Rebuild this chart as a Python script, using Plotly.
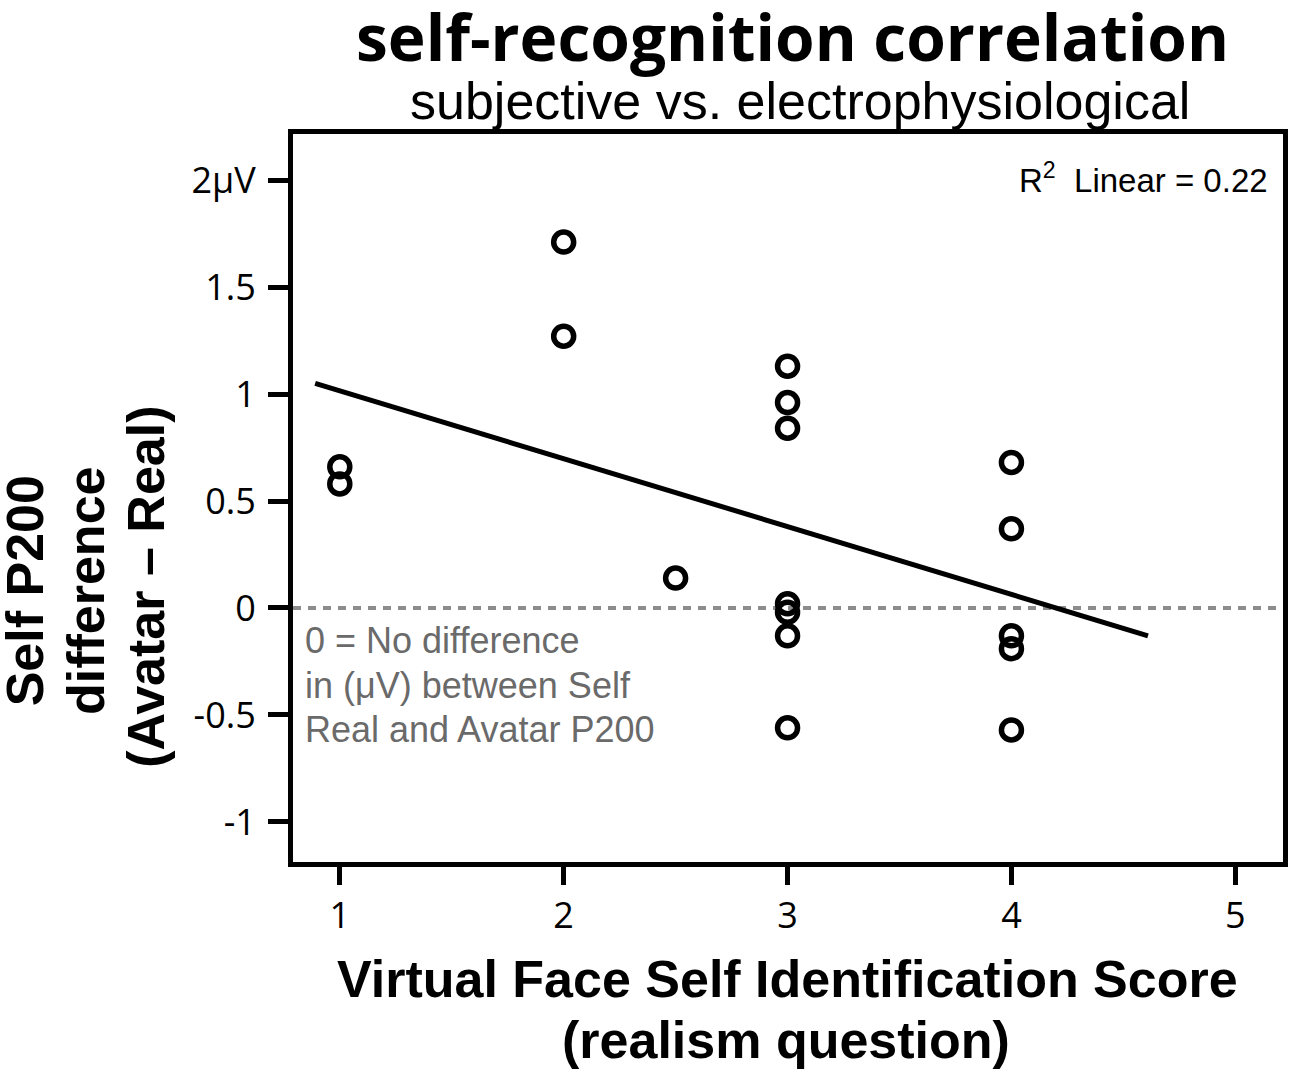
import plotly.graph_objects as go

# Data
score = [1, 1, 2, 2, 2.5, 3, 3, 3, 3, 3, 3, 3, 4, 4, 4, 4, 4]
p200_diff = [0.66, 0.58, 1.71, 1.27, 0.14, 1.13, 0.96, 0.84, 0.02, -0.02, -0.13, -0.56,
             0.68, 0.37, -0.13, -0.19, -0.57]
fit_x = [0.89, 4.61]
fit_y = [1.05, -0.13]
x_ticks = [1, 2, 3, 4, 5]
x_tick_labels = ["1", "2", "3", "4", "5"]
y_ticks = [-1, -0.5, 0, 0.5, 1, 1.5, 2]
y_tick_labels = ["-1", "-0.5", "0", "0.5", "1", "1.5", "2μV"]

W, H = 1300, 1073
L, R, T, B = 293, 12, 134, 211

fig = go.Figure()
fig.add_trace(go.Scatter(
    x=fit_x, y=fit_y, mode="lines",
    line=dict(color="black", width=5), showlegend=False, hoverinfo="skip"))
fig.add_trace(go.Scatter(
    x=score, y=p200_diff, mode="markers",
    marker=dict(symbol="circle-open", size=20, color="black",
                line=dict(color="black", width=5.5)),
    showlegend=False))

fig.add_shape(type="line", xref="paper", yref="y", x0=0, x1=1, y0=0, y1=0,
              line=dict(color="#8c8c8c", width=4, dash="8px,7px"), layer="below")

tickfont = dict(family="Open Sans", size=36, color="black")
fig.update_xaxes(range=[0.791, 5.213], tickvals=x_ticks, ticktext=x_tick_labels,
                 showline=True, linewidth=5, linecolor="black", mirror=True,
                 ticks="outside", ticklen=18, tickwidth=5, tickcolor="black",
                 showgrid=False, zeroline=False, tickfont=tickfont)
fig.update_yaxes(range=[-1.187, 2.215], tickvals=y_ticks, ticktext=y_tick_labels,
                 showline=True, linewidth=5, linecolor="black", mirror=True,
                 ticks="outside", ticklen=20, tickwidth=5, tickcolor="black",
                 ticklabelstandoff=5,
                 showgrid=False, zeroline=False, tickfont=tickfont)

fig.update_layout(
    width=W, height=H,
    margin=dict(l=L, r=R, t=T, b=B),
    paper_bgcolor="white", plot_bgcolor="white",
)


def pa(text, x, y, size, family="Liberation Sans", color="black", xanchor="center",
       yanchor="middle", angle=0, align="center"):
    px = (x - L) / (W - L - R)
    py = (H - B - y) / (H - T - B)
    fig.add_annotation(text=text, x=px, y=py, xref="paper", yref="paper",
                       showarrow=False, font=dict(family=family, size=size, color=color),
                       xanchor=xanchor, yanchor=yanchor, textangle=angle, align=align)


pa("<b>self-recognition correlation</b>", 795, 36, 64, family="Open Sans")
pa("subjective vs. electrophysiological", 803, 101, 52)
pa("R<sup>2</sup>  Linear = 0.22", 1275, 178, 33, xanchor="right")
gray = "#6a6a6a"
pa("0 = No difference", 303, 640, 36, color=gray, xanchor="left")
pa("in (μV) between Self", 303, 685, 36, color=gray, xanchor="left")
pa("Real and Avatar P200", 303, 729, 36, color=gray, xanchor="left")
pa("<b>Virtual Face Self Identification Score</b>", 790, 979, 52)
pa("<b>(realism question)</b>", 788, 1040, 52)
pa("<b>Self P200</b>", 24, 591, 52, angle=-90)
pa("<b>difference</b>", 85, 591, 52, angle=-90)
pa("<b>(Avatar – Real)</b>", 145, 587, 52, angle=-90)

fig.write_html("out.html", config={"displayModeBar": False},
               post_script="document.body.style.margin='0px';")
